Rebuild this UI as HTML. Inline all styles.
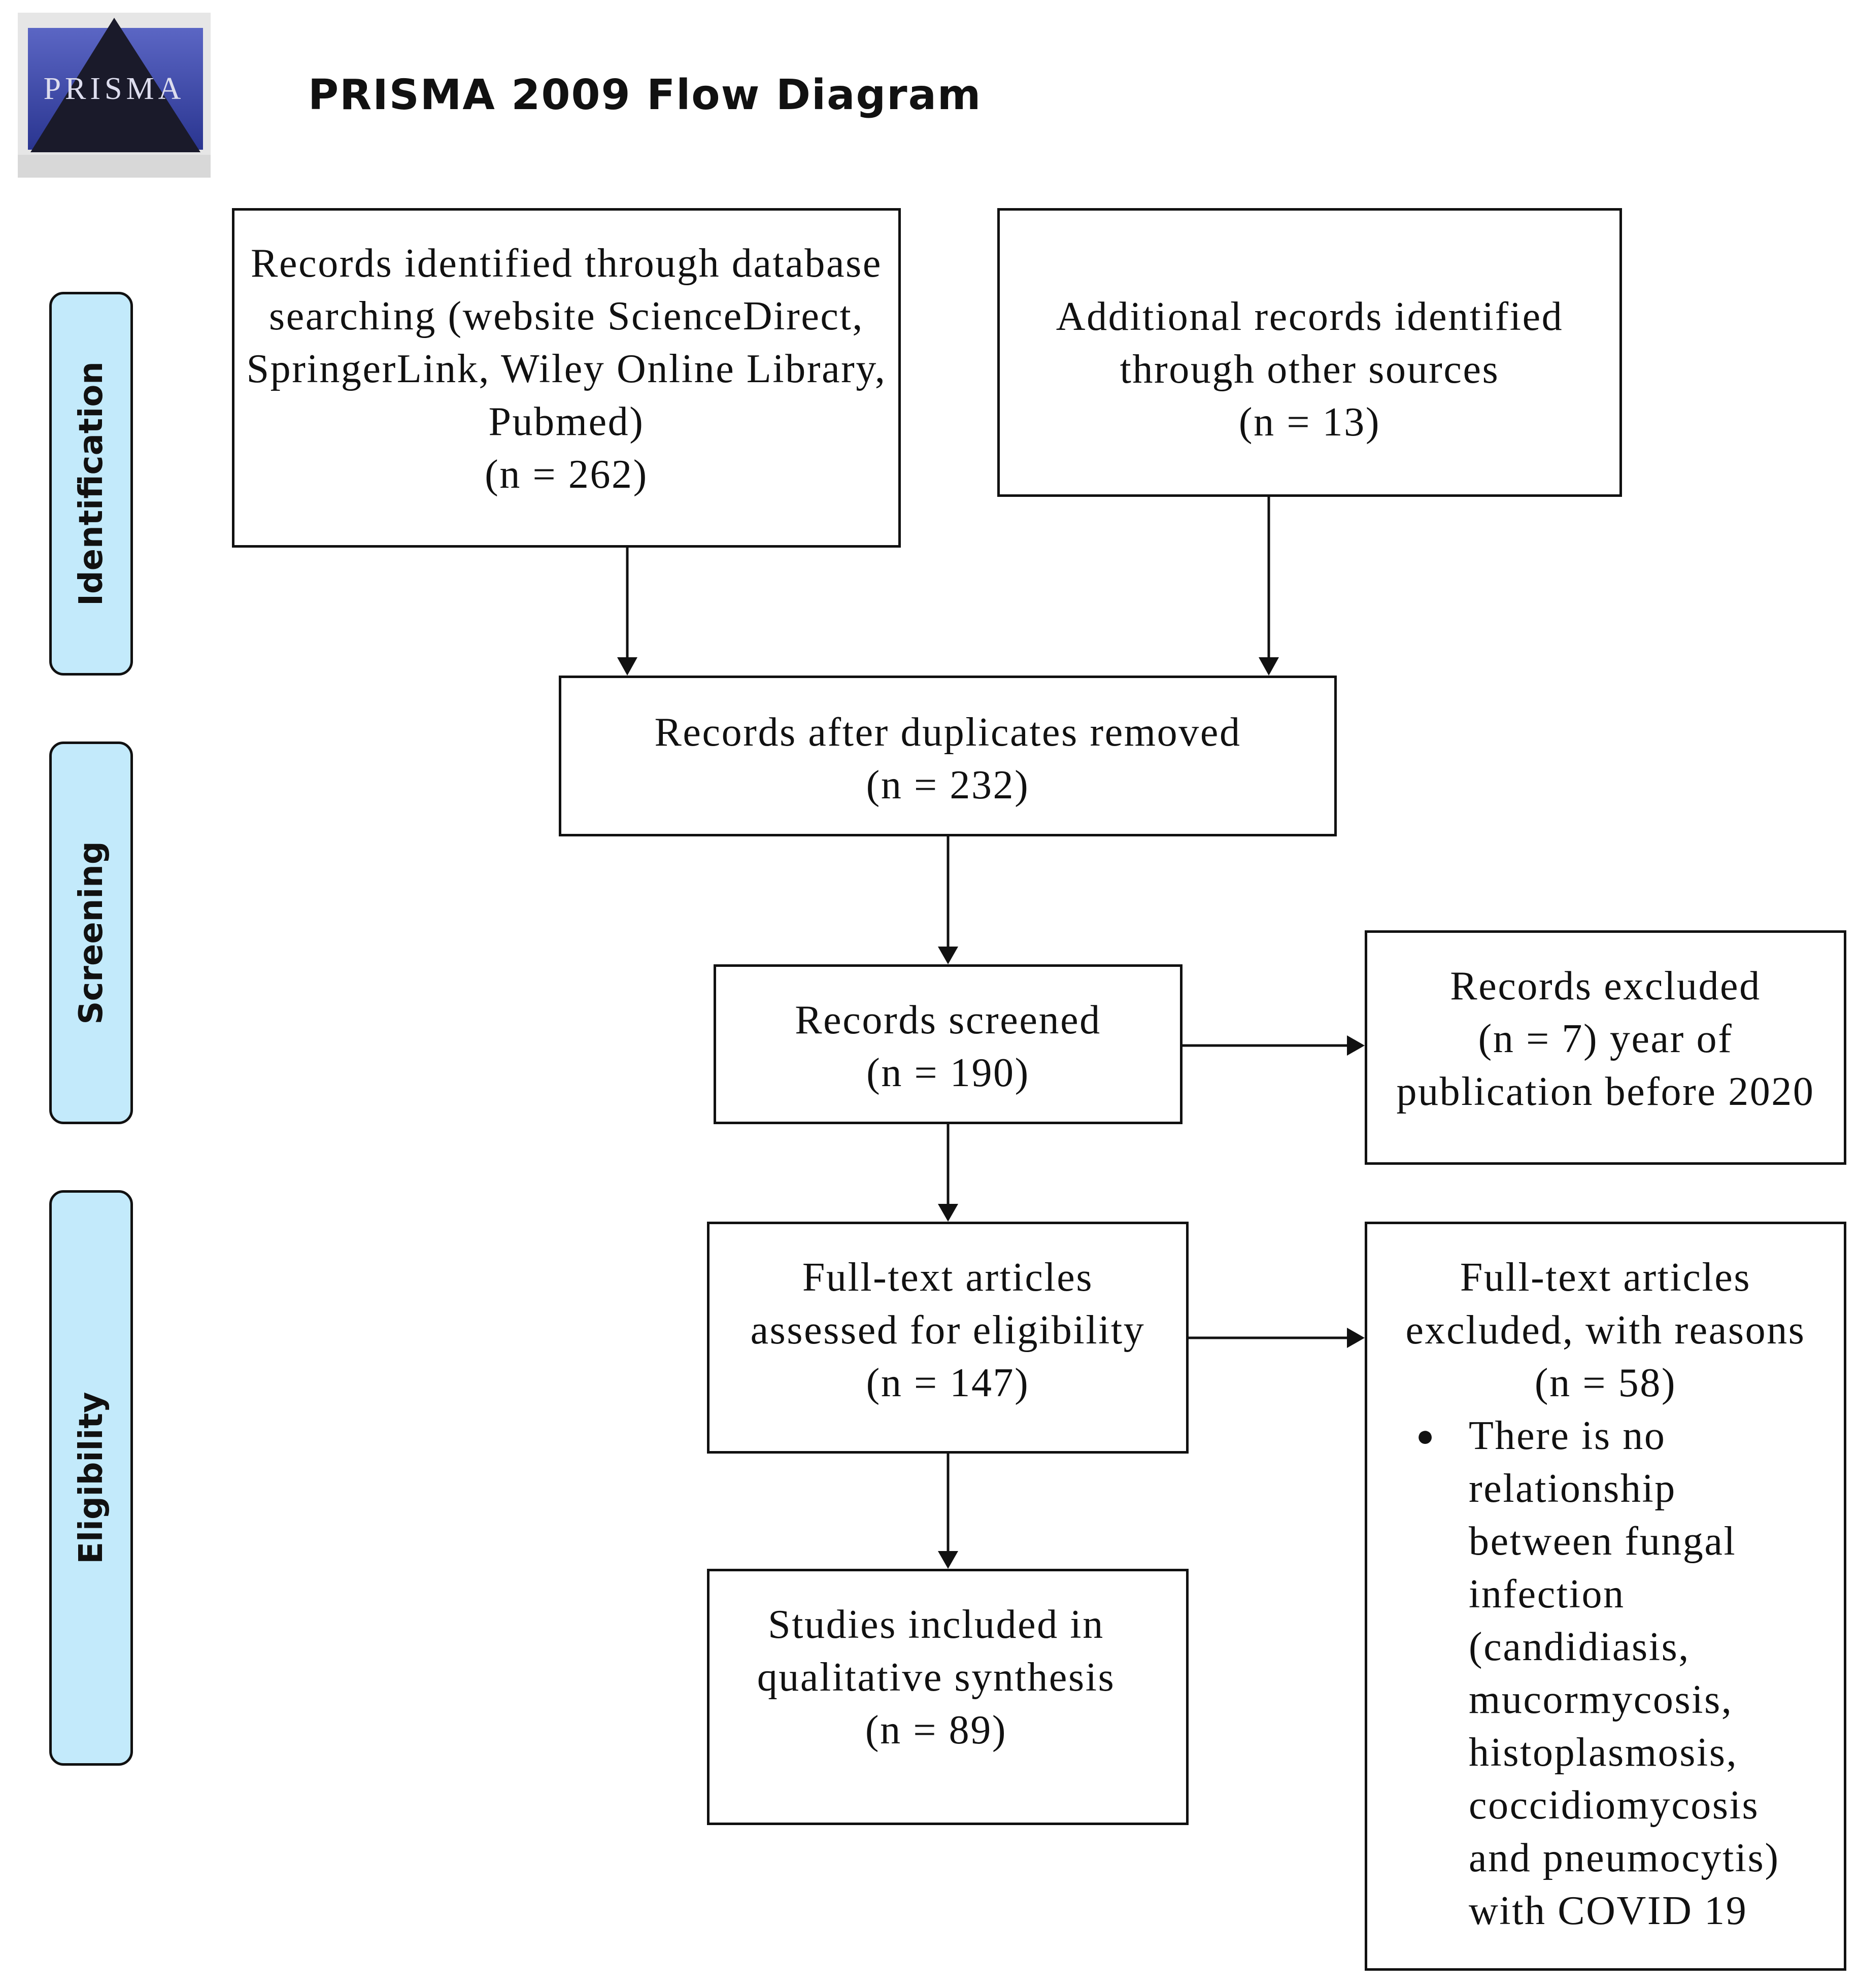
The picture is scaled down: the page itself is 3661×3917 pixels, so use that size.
<!DOCTYPE html>
<html><head><meta charset="utf-8">
<style>
html,body{margin:0;padding:0;background:#fff;}
body{width:3661px;height:3917px;position:relative;overflow:hidden;font-family:"Liberation Serif",serif;color:#111;}
.b{position:absolute;border:5px solid #111;box-sizing:border-box;background:#fff;}
.t{position:absolute;font-size:80px;letter-spacing:2.6px;line-height:104px;text-align:center;white-space:nowrap;}
.side{position:absolute;background:#c3eafb;border:5px solid #111;border-radius:28px;box-sizing:border-box;}
.side span{position:absolute;left:50%;top:50%;transform:translate(-50%,-50%) rotate(-90deg);font-family:"DejaVu Sans",sans-serif;font-weight:bold;font-size:64px;white-space:nowrap;}
svg{position:absolute;left:0;top:0;}
</style></head><body>

<svg width="3661" height="3917">
  <defs>
    <linearGradient id="g" x1="0" y1="0" x2="0" y2="1">
      <stop offset="0" stop-color="#5b66c4"/><stop offset="1" stop-color="#2a3590"/>
    </linearGradient>
  </defs>
  <rect x="35" y="25" width="380" height="325" fill="#e6e6e6"/>
  <rect x="55" y="55" width="345" height="240" fill="url(#g)"/>
  <polygon points="225,35 395,300 60,300" fill="#1a1a2a"/>
  <rect x="35" y="305" width="380" height="45" fill="#d8d8d8"/>
  <text x="225" y="195" font-family="Liberation Serif" font-size="62" fill="#dde" text-anchor="middle" letter-spacing="8">PRISMA</text>
  <g stroke="#111" stroke-width="5" fill="none">
    <line x1="1236" y1="1079" x2="1236" y2="1300"/>
    <line x1="2500" y1="979" x2="2500" y2="1300"/>
    <line x1="1868" y1="1648" x2="1868" y2="1870"/>
    <line x1="1868" y1="2215" x2="1868" y2="2377"/>
    <line x1="1868" y1="2864" x2="1868" y2="3061"/>
    <line x1="2330" y1="2060" x2="2660" y2="2060"/>
    <line x1="2342" y1="2636" x2="2660" y2="2636"/>
  </g>
  <g fill="#111">
    <polygon points="1216,1295 1256,1295 1236,1331"/>
    <polygon points="2480,1295 2520,1295 2500,1331"/>
    <polygon points="1848,1865 1888,1865 1868,1900"/>
    <polygon points="1848,2372 1888,2372 1868,2407"/>
    <polygon points="1848,3056 1888,3056 1868,3091"/>
    <polygon points="2654,2040 2654,2080 2689,2060"/>
    <polygon points="2654,2616 2654,2656 2689,2636"/>
  </g>
</svg>

<div style="position:absolute;left:607px;top:140px;font-family:'DejaVu Sans',sans-serif;font-weight:bold;font-size:82px;letter-spacing:2px;white-space:nowrap;">PRISMA 2009 Flow Diagram</div>

<div class="side" style="left:97px;top:575px;width:165px;height:756px;"><span>Identification</span></div>
<div class="side" style="left:97px;top:1461px;width:165px;height:754px;"><span>Screening</span></div>
<div class="side" style="left:97px;top:2345px;width:165px;height:1134px;"><span>Eligibility</span></div>

<div class="b" style="left:457px;top:410px;width:1318px;height:669px;"></div>
<div class="t" style="left:457px;width:1318px;top:467px;">Records identified through database<br>searching (website ScienceDirect,<br>SpringerLink, Wiley Online Library,<br>Pubmed)<br>(n = 262)</div>

<div class="b" style="left:1965px;top:410px;width:1231px;height:569px;"></div>
<div class="t" style="left:1965px;width:1231px;top:572px;">Additional records identified<br>through other sources<br>(n = 13)</div>

<div class="b" style="left:1101px;top:1331px;width:1533px;height:317px;"></div>
<div class="t" style="left:1101px;width:1533px;top:1391px;">Records after duplicates removed<br>(n = 232)</div>

<div class="b" style="left:1406px;top:1900px;width:924px;height:315px;"></div>
<div class="t" style="left:1406px;width:924px;top:1958px;">Records screened<br>(n = 190)</div>

<div class="b" style="left:2689px;top:1833px;width:949px;height:462px;"></div>
<div class="t" style="left:2689px;width:949px;top:1891px;">Records excluded<br>(n = 7) year of<br>publication before 2020</div>

<div class="b" style="left:1393px;top:2407px;width:949px;height:457px;"></div>
<div class="t" style="left:1393px;width:949px;top:2465px;">Full-text articles<br>assessed for eligibility<br>(n = 147)</div>

<div class="b" style="left:2689px;top:2407px;width:949px;height:1476px;"></div>
<div class="t" style="left:2689px;width:949px;top:2465px;">Full-text articles<br>excluded, with reasons<br>(n = 58)</div>
<div class="t" style="left:2790px;top:2777px;font-size:60px;">●</div>
<div class="t" style="left:2894px;top:2777px;text-align:left;">There is no<br>relationship<br>between fungal<br>infection<br>(candidiasis,<br>mucormycosis,<br>histoplasmosis,<br>coccidiomycosis<br>and pneumocytis)<br>with COVID 19</div>

<div class="b" style="left:1393px;top:3091px;width:949px;height:505px;"></div>
<div class="t" style="left:1370px;width:949px;top:3149px;">Studies included in<br>qualitative synthesis<br>(n = 89)</div>

</body></html>
